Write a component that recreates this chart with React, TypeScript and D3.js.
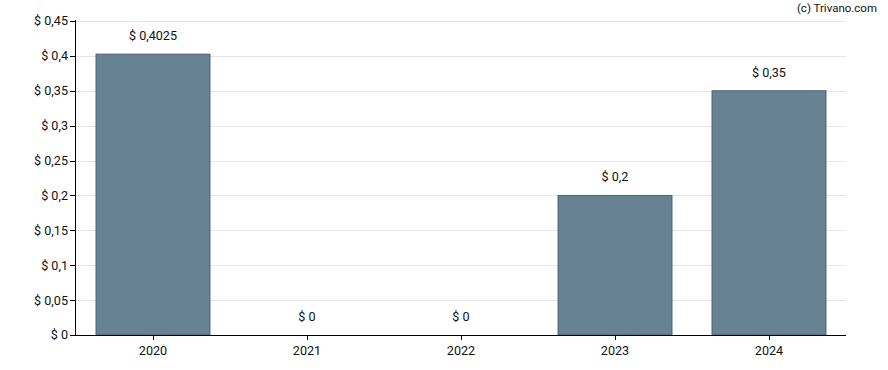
import React from "react";
import * as d3 from "d3";

const categories = ["2020", "2021", "2022", "2023", "2024"];
const values = [0.4025, 0, 0, 0.2, 0.35];
const valueLabels = ["$ 0,4025", "$ 0", "$ 0", "$ 0,2", "$ 0,35"];
const yTicks = [0, 0.05, 0.1, 0.15, 0.2, 0.25, 0.3, 0.35, 0.4, 0.45];
const yTickLabels = ["$ 0", "$ 0,05", "$ 0,1", "$ 0,15", "$ 0,2", "$ 0,25", "$ 0,3", "$ 0,35", "$ 0,4", "$ 0,45"];

export default function App() {
  const W = 888, H = 370;
  const left = 76, right = 846, top = 21, bottom = 335;
  const x = d3.scaleBand<string>().domain(categories).range([left, right]).paddingInner(0.26).paddingOuter(0.13);
  const xc = d3.scaleBand<string>().domain(categories).range([left, right]);
  const y = d3.scaleLinear().domain([0, 0.45]).range([bottom, top]);
  const font = "Roboto, 'Noto Sans', sans-serif";
  const fs = 12.6;
  return (
    <svg width={W} height={H} style={{ position: "absolute", left: 0, top: 0 }} fontFamily={font}>
      <rect width={W} height={H} fill="#fff" />
      {yTicks.map((t, i) => (
        <g key={i}>
          {i > 0 && <line x1={left} x2={right} y1={Math.round(y(t)) + 0.5} y2={Math.round(y(t)) + 0.5} stroke="#e6e6e6" />}
          <line x1={left - 6} x2={left} y1={Math.round(y(t)) + 0.5} y2={Math.round(y(t)) + 0.5} stroke="#000" />
          <text x={left - 8} y={y(t)} dy="0.35em" textAnchor="end" fontSize={fs} fill="#111">{yTickLabels[i]}</text>
        </g>
      ))}
      {categories.map((c, i) => (
        <g key={c}>
          {values[i] > 0 && (
            <rect x={x(c)!} y={y(values[i])} width={x.bandwidth()} height={bottom - y(values[i])}
              fill="#668293" stroke="#4b6378" strokeWidth={1} />
          )}
          <text x={xc(c)! + xc.bandwidth() / 2} y={y(values[i]) - 14} textAnchor="middle" fontSize={fs} fill="#111">{valueLabels[i]}</text>
          <line x1={Math.round(xc(c)! + xc.bandwidth() / 2) + 0.5} x2={Math.round(xc(c)! + xc.bandwidth() / 2) + 0.5} y1={bottom} y2={bottom + 5} stroke="#000" />
          <text x={xc(c)! + xc.bandwidth() / 2} y={355} textAnchor="middle" fontSize={fs} fill="#111">{c}</text>
        </g>
      ))}
      <line x1={left - 0.5} x2={left - 0.5} y1={top - 1} y2={bottom} stroke="#000" />
      <line x1={left} x2={right} y1={bottom + 0.5} y2={bottom + 0.5} stroke="#000" />
      <text x={877} y={12} textAnchor="end" fontSize={11.5} fill="#111">(c) Trivano.com</text>
    </svg>
  );
}
